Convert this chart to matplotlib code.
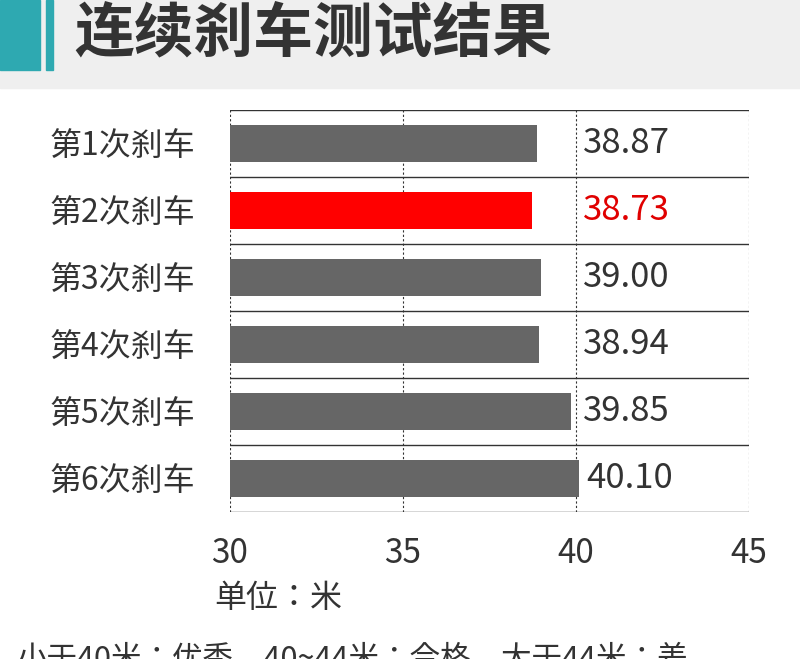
import matplotlib.pyplot as plt
from matplotlib.patches import Rectangle

plt.rcParams['font.family'] = ['Noto Sans CJK SC', 'DejaVu Sans']

# data
labels = ['第1次刹车', '第2次刹车', '第3次刹车', '第4次刹车', '第5次刹车', '第6次刹车']
values = [38.87, 38.73, 39.00, 38.94, 39.85, 40.10]
highlight = 1
xticks = [30, 35, 40, 45]

W, H = 800, 659
fig = plt.figure(figsize=(W / 100, H / 100), dpi=100)
fig.patch.set_facecolor('white')

# header band
fig.patches.append(Rectangle((0, 1 - 88 / H), 1, 88 / H, transform=fig.transFigure,
                             color='#efefef', zorder=0))
fig.patches.append(Rectangle((0, 1 - 70 / H), 40 / W, 70 / H, transform=fig.transFigure,
                             color='#2ea9b1', zorder=1))
fig.patches.append(Rectangle((46 / W, 1 - 70 / H), 7 / W, 70 / H, transform=fig.transFigure,
                             color='#2ea9b1', zorder=1))
fig.text(74 / W, 1 - 34 / H, '连续刹车测试结果', fontsize=43, fontweight='black',
         color='#333333', va='center', ha='left')

# chart
ax = fig.add_axes([230 / W, 147 / H, 519 / W, 402 / H])
n = len(values)
ypos = list(range(n))
colors = ['#ff0000' if i == highlight else '#666666' for i in range(n)]
ax.barh(ypos, [v - 30 for v in values], left=30, height=0.54, color=colors, zorder=3)
ax.set_xlim(30, 45)
ax.set_ylim(n - 0.5, -0.5)

# value labels sit just right of the 40 line, or of the bar if it is longer
for i, v in enumerate(values):
    c = '#e00000' if i == highlight else '#333333'
    ax.annotate(f'{v:.2f}', xy=(max(v, 40), i), xytext=(5, 0), textcoords='offset points',
                ha='left', va='center', fontsize=25, color=c)

# row separators (solid) and vertical gridlines (dotted)
for k in range(n + 1):
    ax.axhline(k - 0.5, color='#333333', lw=1.0, zorder=2)
for x in xticks:
    ax.axvline(x, color='#333333', lw=0.8, linestyle=(0, (2, 2)), zorder=2)
for s in ax.spines.values():
    s.set_visible(False)

ax.set_yticks(ypos)
ax.set_yticklabels(labels, fontsize=23, color='#333333')
ax.set_xticks(xticks)
ax.set_xticklabels([str(t) for t in xticks], fontsize=24, color='#333333')
ax.tick_params(axis='both', length=0)
ax.tick_params(axis='y', pad=25)
ax.tick_params(axis='x', pad=17)

jp = ['Noto Sans CJK JP', 'DejaVu Sans']
fig.text(214 / W, 1 - 598 / H, '单位：米', fontsize=23, color='#333333', va='center', ha='left',
         family=jp)
fig.text(16 / W, -9 / H, '小于40米：优秀，40~44米：合格，大于44米：差', fontsize=22,
         color='#333333', va='baseline', ha='left', family=jp)

fig.savefig('out.png', dpi=100)
